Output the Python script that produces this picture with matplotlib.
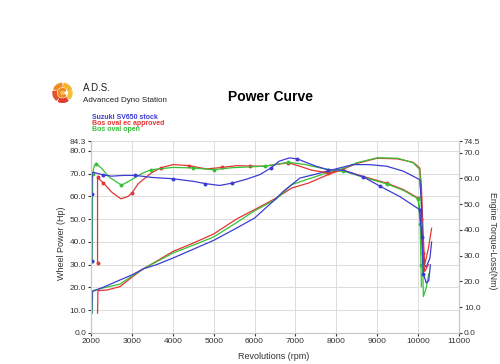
#
# Dyno chart: wheel power and engine torque for three SV650 exhausts
#

import numpy as np
import matplotlib
matplotlib.use("Agg")
import matplotlib.pyplot as plt
from matplotlib.patches import Wedge, Circle

plt.rcParams["font.family"] = ["Liberation Sans", "DejaVu Sans"]

# Series names and colours
names = ["Suzuki SV650 stock", "Bos oval ec approved", "Bos oval open"]
colors = ["#3c3cd4", "#e43434", "#38c038"]

# Wheel power (Hp) vs rpm
blue_pw_rpm = [2017, 2030, 2340, 2710, 3000, 3280, 3600, 4000, 4500, 5000, 5560, 6000,
               6450, 6700, 7110, 7500, 7920, 8410, 8800, 9230, 9640, 10040, 10080,
               10110, 10140, 10200, 10290, 10330]
blue_pw = [8.7, 18.2, 20.4, 23.3, 25.5, 28.2, 30.0, 32.9, 36.8, 40.7, 46.1, 50.5,
           57.8, 62.2, 68.1, 69.8, 71.8, 74.0, 74.0, 73.3, 71.1, 67.4, 58.0,
           40.0, 30.0, 29.0, 33.0, 40.0]

red_pw_rpm = [2160, 2170, 2400, 2710, 3000, 3280, 3600, 4000, 4500, 5000, 5560, 6000,
              6530, 6910, 7320, 7800, 8170, 8500, 9000, 9500, 9880, 10040, 10080,
              10120, 10160, 10250, 10330]
red_pw = [8.7, 18.6, 18.9, 20.4, 24.5, 28.2, 31.5, 35.8, 39.5, 43.5, 50.1, 54.2,
          59.3, 63.7, 65.9, 69.6, 72.0, 74.5, 76.8, 76.5, 75.0, 72.5, 65.0,
          45.0, 30.0, 37.0, 46.0]

green_pw_rpm = [2030, 2040, 2300, 2710, 3000, 3280, 4000, 4500, 5000, 5560, 6000, 6530,
                6910, 7320, 7800, 8170, 8500, 9000, 9500, 9880, 10040, 10080, 10110,
                10130, 10200, 10260]
green_pw = [8.7, 18.6, 19.8, 21.5, 25.0, 28.2, 35.1, 38.6, 42.2, 48.5, 53.7, 58.8,
            65.2, 67.7, 70.5, 72.3, 74.8, 77.0, 76.8, 74.8, 71.8, 55.0, 30.0,
            16.0, 20.0, 26.0]

# Engine torque-loss (Nm) vs rpm
blue_tq_rpm = [2017, 2017, 2030, 2060, 2300, 2500, 2800, 3080, 3500, 4000, 4500, 4800,
               5150, 5450, 5800, 6130, 6400, 6600, 6850, 7050, 7250, 7500, 7800, 8170,
               8660, 9070, 9550, 10040, 10090, 10130, 10200, 10260, 10300]
blue_tq = [27.9, 53.9, 62.1, 62.4, 61.4, 60.9, 61.2, 61.2, 60.4, 59.9, 58.9, 58.0,
           57.3, 58.2, 59.7, 61.5, 64.1, 66.7, 68.0, 67.6, 66.3, 64.8, 63.4, 63.2,
           60.6, 57.0, 53.0, 47.9, 37.1, 23.0, 19.4, 20.3, 26.5]

red_tq_rpm = [2160, 2160, 2300, 2500, 2730, 2900, 3000, 3150, 3470, 3700, 4000, 4400,
              4820, 5200, 5570, 5900, 6260, 6600, 6830, 7100, 7400, 7800, 8170, 8660,
              9230, 9640, 10000, 10070, 10120, 10160, 10250]
red_tq = [27.0, 60.4, 58.3, 54.8, 52.1, 53.0, 54.3, 57.9, 62.1, 64.1, 65.4, 65.0,
          63.7, 64.3, 65.0, 64.8, 64.8, 65.6, 66.1, 64.8, 63.2, 62.2, 63.2, 60.8,
          58.2, 55.7, 52.4, 44.2, 30.9, 23.9, 26.5]

green_tq_rpm = [2030, 2040, 2080, 2130, 2250, 2450, 2745, 3000, 3250, 3470, 4000, 4500,
                5000, 5450, 6260, 6830, 7240, 7800, 8170, 8660, 9230, 9640, 10000,
                10050, 10070, 10080]
green_tq = [28.0, 61.9, 65.0, 65.7, 64.1, 60.5, 57.4, 59.6, 62.0, 63.4, 64.3, 64.1,
            63.4, 64.2, 64.8, 66.3, 65.4, 63.4, 62.9, 60.5, 57.9, 55.4, 52.1,
            42.4, 26.5, 18.0]

rpm_ticks = list(range(2000, 11001, 1000))
hp_ticks = [0, 10, 20, 30, 40, 50, 60, 70, 80, 84.3]
nm_ticks = [0, 10, 20, 30, 40, 50, 60, 70, 74.5]


def draw_logo(fig):
    lax = fig.add_axes([0.104, 0.716, 0.042, 0.058])
    lax.set_aspect("equal")
    lax.set_xlim(-1.1, 1.1)
    lax.set_ylim(-1.1, 1.1)
    lax.axis("off")
    segs = [(20, 80, "#f6b32a"), (95, 155, "#f08a24"), (170, 230, "#e5532a"),
            (245, 305, "#e03a2a"), (320, 370, "#f4c03a")]
    for a0, a1, c in segs:
        lax.add_patch(Wedge((0, 0), 1.0, a0, a1, width=0.35, color=c))
    lax.add_patch(Wedge((0, 0), 0.45, 40, 320, width=0.18, color="#f08a24"))
    lax.add_patch(Circle((0, 0), 0.12, color="#f4c03a"))


def main():
    fig = plt.figure(figsize=(5.0, 3.64), dpi=100)
    ax = fig.add_axes([0.182, 0.0852, 0.736, 0.527])
    ax2 = ax.twinx()

    grid_col = "#dcdcdc"
    ax.set_xlim(2000, 11000)
    ax.set_ylim(0, 84.3)
    ax2.set_ylim(0, 74.5)
    ax.set_xticks(rpm_ticks)
    ax.set_yticks(hp_ticks)
    ax2.set_yticks(nm_ticks)
    ax.set_yticklabels(["%.1f" % v for v in hp_ticks])
    ax2.set_yticklabels(["%.1f" % v for v in nm_ticks])
    ax.grid(True, color=grid_col, linewidth=0.7)
    ax.set_axisbelow(True)

    for a in (ax, ax2):
        for s in a.spines.values():
            s.set_color("#c8c8c8")
            s.set_linewidth(0.8)
        a.spines["top"].set_visible(False)
        a.tick_params(labelsize=6, colors="#333333", length=2.5, width=0.8, pad=1.0)

    pw = [(blue_pw_rpm, blue_pw), (red_pw_rpm, red_pw), (green_pw_rpm, green_pw)]
    tq = [(blue_tq_rpm, blue_tq), (red_tq_rpm, red_tq), (green_tq_rpm, green_tq)]
    order = [1, 2, 0]
    for i in order:
        ax.plot(pw[i][0], pw[i][1], color=colors[i], linewidth=0.9)
        ax2.plot(tq[i][0], tq[i][1], color=colors[i], linewidth=0.9,
                 marker="o", markersize=1.8, markevery=0.08)

    ax.set_xlabel("Revolutions (rpm)", fontsize=6.5, color="#333333")
    ax.xaxis.set_label_coords(0.495, -0.10)
    ax.set_ylabel("Wheel Power (Hp)", fontsize=6.5, color="#333333")
    ax.yaxis.set_label_coords(-0.068, 0.47)
    ax2.set_ylabel("Engine Torque-Loss(Nm)", fontsize=6.3, color="#333333",
                   rotation=-90, va="center")
    ax2.yaxis.set_label_coords(1.092, 0.48)

    fig.text(0.542, 0.733, "Power Curve", fontsize=10, fontweight="bold",
             ha="center", va="center")
    draw_logo(fig)
    fig.text(0.166, 0.757, "A.D.S.", fontsize=7, va="center", color="#222222")
    fig.text(0.166, 0.724, "Advanced Dyno Station", fontsize=5.8, va="center",
             color="#222222")

    for k, (name, c) in enumerate(zip(names, colors)):
        fig.text(0.184, 0.676 - k * 0.0165, name, fontsize=5, fontweight="bold",
                 color=c, va="center")

    fig.savefig("out.png", dpi=100)


if __name__ == "__main__":
    main()
